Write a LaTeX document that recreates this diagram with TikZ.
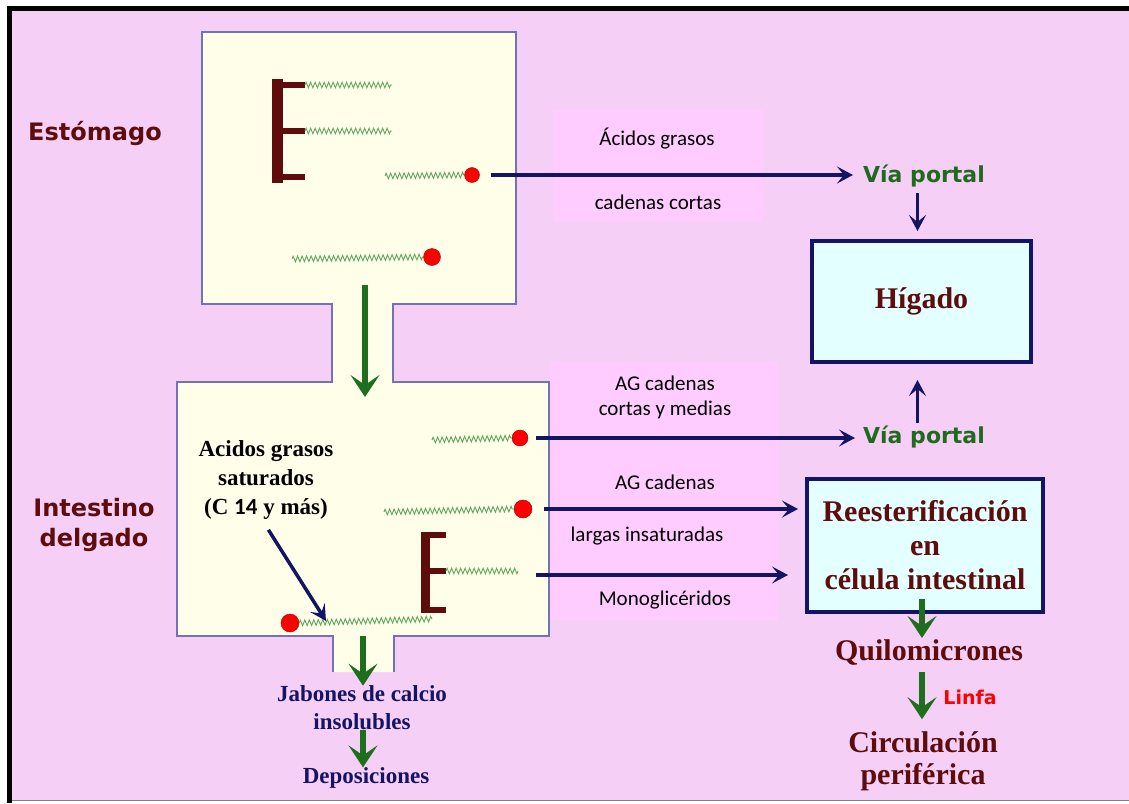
\documentclass[tikz,border=0pt]{standalone}
\usepackage{fontspec}
\setmainfont{Liberation Serif}
\newfontfamily\verdfont{DejaVu Sans}
\newfontfamily\calfont{Carlito}
\usepackage{tikz}
\usetikzlibrary{positioning,arrows.meta,decorations.pathmorphing,calc}
\definecolor{bgpink}{HTML}{F5CFF5}
\definecolor{tagpink}{HTML}{FFCCFF}
\definecolor{cream}{HTML}{FFFFE9}
\definecolor{wall}{HTML}{7272B4}
\definecolor{navy}{HTML}{141464}
\definecolor{leaf}{HTML}{1D6E1D}
\definecolor{maroon}{HTML}{5E0C0C}
\definecolor{chain}{HTML}{5FA65F}
\definecolor{aqua}{HTML}{E4FFFF}
\definecolor{ptgreen}{HTML}{1E6B1E}

\begin{document}
\begin{tikzpicture}[x=1pt, y=-1pt,
  organ/.style={fill=cream},
  wallline/.style={draw=wall, line width=1.3pt},
  tag/.style={fill=tagpink, inner sep=0pt},
  tagtxt/.style={font=\calfont\fontsize{21}{25}\selectfont, text=black, align=center, inner sep=0pt},
  side/.style={font=\verdfont\bfseries\fontsize{24}{30}\selectfont, text=maroon, align=center, inner sep=0pt},
  portal/.style={font=\verdfont\bfseries\fontsize{22}{26}\selectfont, text=ptgreen, inner sep=0pt},
  organbox/.style={draw=navy, line width=4pt, fill=aqua, inner sep=0pt},
  hepa/.style={font=\bfseries\fontsize{30}{34}\selectfont, text=maroon, align=center, inner sep=0pt},
  stool/.style={font=\bfseries\fontsize{23}{28}\selectfont, text=navy, align=center, inner sep=0pt},
  chainline/.style={draw=chain, line width=0.9pt, decorate, decoration={zigzag, segment length=4.5pt, amplitude=2.8pt}},
  redhead/.style={circle, fill=red, draw=red!60!black, line width=0.4pt, inner sep=0pt, minimum size=16pt},
  glyc/.style={fill=maroon},
  vessel/.style={draw=navy, line width=3.5pt, -{Stealth[length=16pt,width=17pt,inset=7pt]}},
  gut/.style={draw=leaf, line width=6pt, -{Stealth[length=22pt,width=29pt,inset=10pt]}}
]
  % frame and background
  \useasboundingbox (0,0) rectangle (1129,803);
  \fill[white] (0,0) rectangle (1129,803);
  \fill[bgpink] (10,8) rectangle (1129,800);
  \draw[black!50, line width=1pt] (10,800.5) -- (1129,800.5);
  \draw[black, line width=5pt] (9.5,803) -- (9.5,8.5) -- (1129,8.5);

  % pink label panels
  \node[tag, minimum width=210, minimum height=112] (panelA) at (658,166) {};
  \node[tag, minimum width=228, minimum height=258] (panelB) at (664,491) {};

  % stomach and small intestine
  \fill[organ] (202,32) -- (516,32) -- (516,304) -- (393,304) -- (393,382) -- (549,382) -- (549,636)
    -- (394,636) -- (394,672) -- (333,672) -- (333,636) -- (177,636) -- (177,382) -- (332,382)
    -- (332,304) -- (202,304) -- cycle;
  \draw[wallline] (394,672) -- (394,636) -- (549,636) -- (549,382) -- (393,382) -- (393,304)
    -- (516,304) -- (516,32) -- (202,32) -- (202,304) -- (332,304) -- (332,382) -- (177,382)
    -- (177,636) -- (333,636) -- (333,672);

  % glycerol backbones
  \fill[glyc] (272,79) rectangle (283,183);
  \foreach \ya in {82,128,174}
    \fill[glyc] (272,\ya) rectangle (305,\ya+6);
  \fill[glyc] (421,532) rectangle (430,613);
  \foreach \ya in {532,568,607}
    \fill[glyc] (421,\ya) rectangle (446,\ya+6);

  % fatty acid chains
  \node[redhead, minimum size=15pt] (rA) at (472,175) {};
  \node[redhead, minimum size=17pt] (rB) at (432,257) {};
  \node[redhead] (rC) at (520,438) {};
  \node[redhead, minimum size=18pt] (rD) at (523,509) {};
  \node[redhead, minimum size=18pt] (rE) at (290,623) {};
  \draw[chainline] (305,85) -- (392,85);
  \draw[chainline] (305,131) -- (392,131);
  \draw[chainline] (385,176) -- (rA.west);
  \draw[chainline] (292,259) -- (rB.west);
  \draw[chainline] (432,440) -- (rC.west);
  \draw[chainline] (384,512) -- (rD.west);
  \draw[chainline] (446,571) -- (518,571);
  \draw[chainline] (rE.east) -- (432,619);

  % labels
  \node[side] (stom) at (95,133) {Estómago};
  \node[side] (intes) at (94,525) {Intestino\\delgado};
  \node[font=\bfseries\fontsize{23}{29}\selectfont, align=center, inner sep=0pt] (acid) at (266,480)
    {Acidos grasos\\saturados\\(C {\calfont\bfseries 14} y más)};
  \node[stool] (jabon) at (362,708) {Jabones de calcio\\insolubles};
  \node[stool] (depo) at (366,778) {Deposiciones};

  \node[tagtxt] (tA1) at (657,139) {Ácidos grasos};
  \node[tagtxt] (tA2) at (658,202) {cadenas cortas};
  \node[tagtxt] (tB1) at (665,397) {AG cadenas\\cortas y medias};
  \node[tagtxt] (tB2) at (665,482) {AG cadenas};
  \node[tagtxt] (tB3) at (647,536) {largas insaturadas};
  \node[tagtxt] (tB4) at (665,600) {Monoglicéridos};

  \node[portal] (via1) at (924,176) {Vía portal};
  \node[portal] (via2) at (924,437) {Vía portal};
  \node[organbox, hepa, minimum width=219, minimum height=121] (liver) at (921.5,301.5) {Hígado};
  \node[organbox, hepa, minimum width=236, minimum height=133] (reest) at (925,545.5)
    {Reesterificación\\en\\célula intestinal};
  \node[hepa] (quilo) at (929,653) {Quilomicrones};
  \node[font=\verdfont\bfseries\fontsize{19}{22}\selectfont, text=red, inner sep=0pt] (linfa) at (970,697) {Linfa};
  \node[hepa, font=\bfseries\fontsize{30}{32}\selectfont] (circ) at (923,761) {Circulación\\periférica};

  % absorption routes
  \coordinate (mono) at (536,575);
  \coordinate (lv) at ([xshift=-4pt]liver.north);
  \draw[vessel, shorten >=10pt] ([xshift=11pt]rA.east) -- (rA -| via1.west);
  \draw[vessel, shorten >=8pt] ([xshift=8pt]rC.east) -- (rC -| via2.west);
  \draw[vessel, shorten >=7pt] ([xshift=12pt]rD.east) -- (rD -| reest.west);
  \draw[vessel, shorten >=17pt] (mono) -- (mono -| reest.west);
  \draw[vessel, shorten <=6pt, shorten >=8pt] (lv |- via1.south) -- (lv);
  \draw[vessel, shorten <=3pt, shorten >=16pt] (lv |- via2.north) -- (lv |- liver.south);
  \coordinate (satTip) at (326,621);
  \draw[vessel, shorten <=12pt] ([xshift=-4pt]acid.south) -- (satTip);

  % transit
  \coordinate (neckA) at (365,285);
  \coordinate (neckB) at (365,397);
  \coordinate (stub) at (363,636);
  \coordinate (ql) at ([xshift=-3pt]reest.south);
  \draw[gut] (neckA) -- (neckB);
  \draw[gut] (stub) -- (stub |- jabon.north);
  \draw[gut] (stub |- jabon.south) -- (stub |- depo.north);
  \draw[gut, shorten <=-15pt, shorten >=2pt] (ql) -- (ql |- quilo.north);
  \draw[gut, shorten <=6pt, shorten >=12pt] (ql |- quilo.south) -- (ql |- circ.north);
\end{tikzpicture}
\end{document}
